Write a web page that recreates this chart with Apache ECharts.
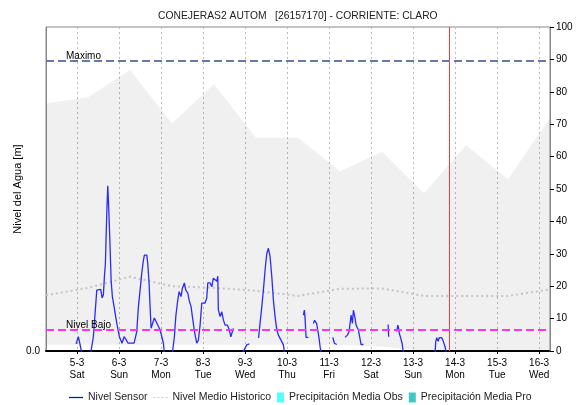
<!DOCTYPE html>
<html>
<head>
<meta charset="utf-8">
<script src="https://cdn.jsdelivr.net/npm/echarts@6/dist/echarts.min.js"></script>
<style>
  html, body { margin: 0; padding: 0; background: #fff; }
  #chart { width: 577px; height: 405px; }
</style>
</head>
<body>
<div id="chart"></div>
<script>
// Time axis in days counted from 4-3 00:00 (so 5-3 = 1, 16-3 = 12)
const dayTicks = [1, 2, 3, 4, 5, 6, 7, 8, 9, 10, 11, 12];
const dayLabels = ['5-3', '6-3', '7-3', '8-3', '9-3', '10-3', '11-3', '12-3', '13-3', '14-3', '15-3', '16-3'];
const weekDays = ['Sat', 'Sun', 'Mon', 'Tue', 'Wed', 'Thu', 'Fri', 'Sat', 'Sun', 'Mon', 'Tue', 'Wed'];
const levelTicks = [0, 10, 20, 30, 40, 50, 60, 70, 80, 90, 100];

// Historic envelope and mean, one point per day at 06:00
const histTime  = [0.26, 1.26, 2.26, 3.26, 4.26, 5.26, 6.26, 7.26, 8.26, 9.26, 10.26, 11.26, 12.26];
const histUpper = [76.4, 78.3, 86.7, 70.3, 82.4, 65.8, 65.8, 55.5, 61.5, 48.7, 63.5, 53.0, 72.0];
const histLower = [1.9, 1.9, 1.9, 1.9, 1.9, 1.9, 1.9, 1.9, 1.3, 0, 0, 0, 0];
const histMean  = [17.2, 19.5, 22.9, 20.0, 19.5, 18.6, 17.0, 19.2, 19.3, 17.0, 17.0, 17.0, 19.0];

// Sensor readings (null = no data)
const sensorTime = [
  0.976, 1.031, 1.112,
  1.326, 1.388, 1.429, 1.469, 1.493, 1.564, 1.595, 1.626, 1.650, 1.674, 1.707, 1.731, 1.755,
  1.786, 1.810, 1.840, 1.881, 1.905, 1.945, 1.983, 2.007, 2.024, 2.071, 2.119, 2.167, 2.214,
  2.357, 2.421, 2.460, 2.500, 2.540, 2.579, 2.602, 2.660, 2.683, 2.714, 2.738, 2.762, 2.793,
  2.840, 2.881, 2.921, 2.976, 3.017, 3.055, 3.079, 3.269, 3.317, 3.350, 3.388, 3.429, 3.452,
  3.476, 3.507, 3.555, 3.588, 3.636, 3.667, 3.714, 3.745, 3.779, 3.810, 3.850, 3.888, 3.929,
  3.969, 4.048, 4.088, 4.112, 4.167, 4.207, 4.245, 4.286, 4.326, 4.350, 4.364, 4.405, 4.445,
  4.483, 4.524, 4.579, 4.626, 4.660, 4.690, 4.721, 4.730,
  4.945, 5.000, 5.040, 5.102, 5.110,
  5.321, 5.340, 5.398, 5.436, 5.476, 5.517, 5.555, 5.595, 5.636, 5.674, 5.714, 5.755, 5.793,
  5.833, 5.874, 5.912, 5.940, 5.950,
  6.388, 6.412, 6.429, 6.452, 6.507, 6.515,
  6.626, 6.655, 6.683, 6.702, 6.730, 6.762, 6.786, 6.810, 6.820,
  7.088, 7.126, 7.183, 7.190,
  7.381, 7.436, 7.476, 7.500, 7.524, 7.555, 7.579, 7.619, 7.643, 7.667, 7.698, 7.738, 7.762,
  7.817, 7.825,
  8.405, 8.419, 8.425,
  8.612, 8.636, 8.655, 8.674, 8.707, 8.738, 8.769, 8.780,
  9.524, 9.540, 9.564, 9.595, 9.626, 9.683, 9.721, 9.762, 9.786
];
const sensorLevel = [
  2.2, 4.4, -0.5,
  -0.5, 4.4, 11.7, 18.8, 19.0, 19.0, 16.4, 17.3, 22.8, 27.0, 42.6, 51.0, 43.5,
  32.0, 21.9, 16.8, 13.7, 11.7, 8.6, 6.0, 4.4, 4.4, 2.4, 4.4, 3.5, 2.4,
  2.4, 6.0, 13.7, 18.8, 24.0, 28.0, 29.6, 29.6, 27.0, 21.0, 13.7, 7.0, 7.0,
  10.2, 10.2, 8.0, 6.5, 4.4, 2.4, -0.5, -0.5, 4.4, 10.6, 14.8, 18.3, 18.8,
  16.8, 19.4, 21.0, 18.8, 17.9, 15.7, 13.7, 10.6, 7.5, 4.9, 2.4, 3.4, 8.0,
  14.8, 14.8, 16.4, 21.0, 21.0, 19.8, 22.5, 23.0, 21.5, 23.1, 12.6, 10.6, 12.1,
  9.6, 8.0, 8.0, 6.5, 4.4, 4.9, 7.0, null,
  -0.5, 0.9, 1.9, 2.2, null,
  4.0, 6.5, 13.7, 18.8, 25.0, 30.1, 31.7, 29.1, 23.0, 15.7, 10.6, 6.5, 4.9,
  4.4, 2.9, 1.9, -0.5, null,
  11.1, 12.6, 10.0, 4.2, 4.2, null,
  8.5, 9.5, 10.1, 8.5, 6.5, 3.9, 1.3, -0.5, null,
  4.2, 2.4, 2.0, null,
  4.2, 4.9, 6.0, 8.5, 11.1, 8.5, 12.6, 10.1, 8.0, 8.0, 6.5, 6.0, 2.0,
  2.0, null,
  8.2, 4.4, null,
  6.0, 8.0, 7.0, 5.4, 3.9, 2.4, -0.5, null,
  -0.5, 2.9, 4.1, 3.0, 4.1, 4.1, 2.9, 1.3, -0.5
];

// Precipitation [day, value] (no records in this window)
const precipObs = [];
const precipPro = [];

// Reference levels and current time marker
const levelMax = 89.5;
const levelLow = 6.5;
const nowTime = 9.867;
const levelRange = [0, 100];

const FONT = 'Liberation Sans, Arial, sans-serif';

const pairs = (xs, ys) => xs.map((x, i) => [x, ys[i]]);

const chart = echarts.init(document.getElementById('chart'), null, { renderer: 'canvas' });

// Historic envelope drawn as one polygon: upper edge forward, lower edge back
function renderEnvelope(params, api) {
  if (params.dataIndex !== 0) return;
  const pts = [];
  for (let i = 0; i < histTime.length; i++) pts.push(api.coord([histTime[i], histUpper[i]]));
  for (let i = histTime.length - 1; i >= 0; i--) pts.push(api.coord([histTime[i], histLower[i]]));
  return {
    type: 'polygon',
    shape: { points: pts },
    style: { fill: 'rgba(0,0,0,0.058)' },
    silent: true
  };
}

// Precipitation columns (narrow rectangles from zero)
function renderPrecip(color) {
  return function (params, api) {
    const t = api.value(0);
    const top = api.coord([t - 0.02, api.value(1)]);
    const base = api.coord([t + 0.02, 0]);
    return {
      type: 'rect',
      shape: { x: top[0], y: top[1], width: base[0] - top[0], height: base[1] - top[1] },
      style: { fill: color }
    };
  };
}

chart.setOption({
  animation: false,
  backgroundColor: '#fff',
  textStyle: { fontFamily: FONT },
  title: {
    text: 'CONEJERAS2 AUTOM   [26157170] - CORRIENTE: CLARO',
    left: 153,
    top: 6,
    textStyle: { fontFamily: FONT, fontSize: 10.3, fontWeight: 'normal', color: '#222' }
  },
  grid: {
    left: 46, right: 27, top: 27, bottom: 54,
    containLabel: false,
    outerBoundsMode: 'none',
    show: true, borderColor: '#888', borderWidth: 1, backgroundColor: 'transparent'
  },
  legend: [
    {
      left: 69, top: 392, padding: 0,
      itemWidth: 14, itemHeight: 10, itemGap: 6,
      textStyle: { fontFamily: FONT, fontSize: 10.5, color: '#222' },
      data: [
        { name: 'Nivel Sensor', icon: 'path://M0,4h16v1.4h-16z', itemStyle: { color: '#0000ff' } },
        { name: 'Nivel Medio Historico',
          icon: 'path://M0,4h2v1.4h-2zM4.7,4h2v1.4h-2zM9.3,4h2v1.4h-2zM14,4h2v1.4h-2z',
          itemStyle: { color: '#c4c4c4' } }
      ]
    },
    {
      left: 277, top: 392, padding: 0,
      itemWidth: 7, itemHeight: 10, itemGap: 6,
      textStyle: { fontFamily: FONT, fontSize: 10.5, color: '#222' },
      data: [
        { name: 'Precipitación Media Obs', icon: 'rect', itemStyle: { color: '#55ffff' } },
        { name: 'Precipitación Media Pro', icon: 'rect', itemStyle: { color: '#40c8c8' } }
      ]
    }
  ],
  xAxis: {
    type: 'value',
    min: 0.26,
    max: 12.26,
    axisLine: { show: true, onZero: false, lineStyle: { color: '#000', width: 2, type: [1, 1] } },
    axisTick: { show: true, customValues: dayTicks, length: 3, lineStyle: { color: '#000' } },
    axisLabel: {
      customValues: dayTicks,
      margin: 6,
      fontSize: 10,
      lineHeight: 12,
      color: '#000',
      fontFamily: FONT,
      formatter: (v) => {
        const i = dayTicks.indexOf(Math.round(v));
        return i < 0 ? '' : dayLabels[i] + '\n' + weekDays[i];
      }
    },
    splitLine: { show: true, lineStyle: { color: '#bbb', width: 1, type: [2, 3] } }
  },
  yAxis: [
    {
      type: 'value',
      min: levelRange[0], max: levelRange[1], interval: 100,
      name: 'Nivel del Agua [m]',
      nameLocation: 'middle',
      nameGap: 23,
      nameMoveOverlap: false,
      nameTextStyle: { fontFamily: FONT, fontSize: 11, color: '#000' },
      axisLine: { show: true, onZero: false, lineStyle: { color: '#888' } },
      axisTick: { show: false },
      axisLabel: {
        fontSize: 10, color: '#000', margin: 6, fontFamily: FONT,
        formatter: (v) => (v === levelTicks[0] ? '0.0' : '')
      },
      splitLine: { show: false }
    },
    {
      type: 'value',
      position: 'right',
      min: levelRange[0], max: levelRange[1], interval: 10,
      axisLine: { show: true, onZero: false, lineStyle: { color: '#888' } },
      axisTick: { show: true, length: 4, lineStyle: { color: '#000' } },
      axisLabel: {
        fontSize: 10, color: '#000', margin: 6, fontFamily: FONT,
        formatter: (v) => (levelTicks.indexOf(v) >= 0 ? String(v) : '')
      },
      splitLine: { show: false }
    }
  ],
  series: [
    {
      name: 'historicEnvelope',
      type: 'custom',
      renderItem: renderEnvelope,
      data: histTime.map((t, i) => [t, histUpper[i], histLower[i]]),
      encode: { x: 0, y: 1 },
      silent: true,
      clip: true,
      z: 1
    },
    {
      name: 'Nivel Medio Historico',
      type: 'line',
      data: pairs(histTime, histMean),
      symbol: 'none',
      itemStyle: { color: '#c4c4c4' },
      lineStyle: { color: '#c4c4c4', width: 2, type: [2, 3] },
      z: 2
    },
    {
      name: 'Precipitación Media Obs',
      type: 'custom',
      renderItem: renderPrecip('#55ffff'),
      data: precipObs,
      itemStyle: { color: '#55ffff' },
      encode: { x: 0, y: 1 },
      z: 2
    },
    {
      name: 'Precipitación Media Pro',
      type: 'custom',
      renderItem: renderPrecip('#40c8c8'),
      data: precipPro,
      itemStyle: { color: '#40c8c8' },
      encode: { x: 0, y: 1 },
      z: 2
    },
    {
      name: 'Nivel Sensor',
      type: 'line',
      data: pairs(sensorTime, sensorLevel),
      symbol: 'none',
      connectNulls: false,
      clip: true,
      itemStyle: { color: '#0000ff' },
      lineStyle: { color: '#2a2aff', width: 1.3 },
      z: 3
    },
    {
      name: 'nowMarker',
      type: 'line',
      data: levelRange.map((v) => [nowTime, v]),
      symbol: 'none',
      silent: true,
      itemStyle: { color: '#f03a3a' },
      lineStyle: { color: '#f03a3a', width: 1, type: 'solid' },
      z: 4
    },
    {
      name: 'levelRefs',
      type: 'line',
      data: [],
      z: 5,
      markLine: {
        silent: true,
        symbol: 'none',
        animation: false,
        data: [
          {
            yAxis: levelMax,
            lineStyle: { color: '#6a77a0', width: 2, type: [8, 4] },
            label: {
              show: true, position: 'insideStartTop', formatter: 'Maximo',
              fontSize: 10, color: '#000', fontFamily: FONT, distance: [20, 0]
            }
          },
          {
            yAxis: levelLow,
            lineStyle: { color: '#ff33ff', width: 2, type: [8, 4] },
            label: {
              show: true, position: 'insideStartTop', formatter: 'Nivel Bajo',
              fontSize: 10, color: '#000', fontFamily: FONT, distance: [20, 0]
            }
          }
        ]
      }
    }
  ]
});
</script>
</body>
</html>
